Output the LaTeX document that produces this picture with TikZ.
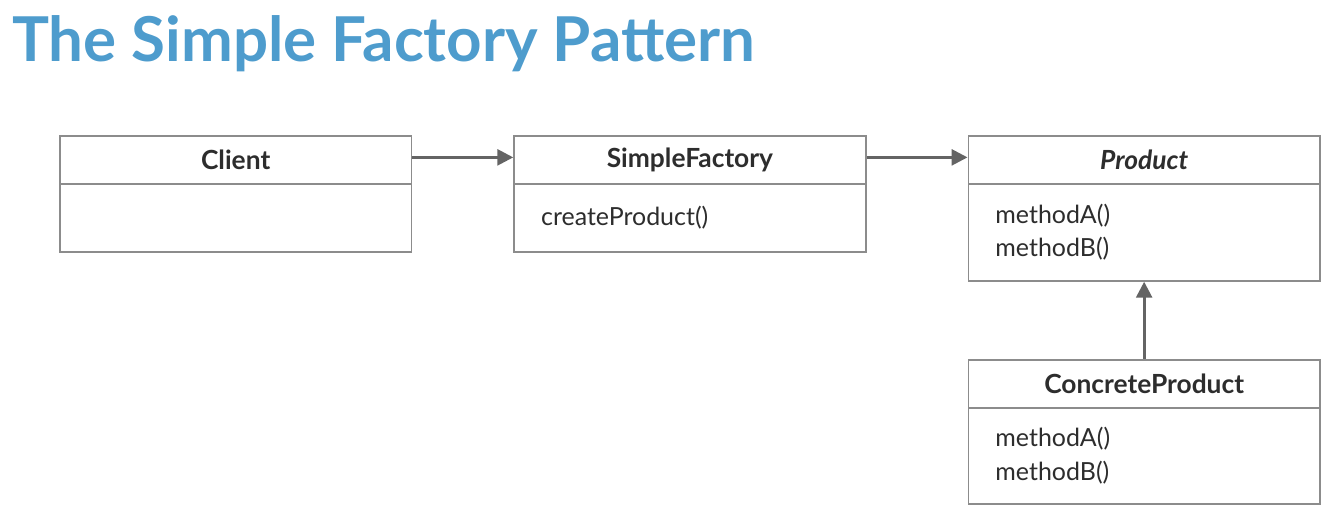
\documentclass[tikz,border=0pt]{standalone}
\usepackage{fontspec}
\setmainfont{Lato}
\usepackage{xcolor}
\usepackage{tikz}
\usetikzlibrary{positioning, arrows.meta}

\definecolor{titleblue}{RGB}{78,156,205}
\definecolor{boxgray}{RGB}{140,140,140}
\definecolor{arrowgray}{RGB}{100,100,100}
\definecolor{textdark}{RGB}{45,45,45}

\tikzset{
	umlhead/.style={draw=boxgray, line width=1pt, rectangle, minimum width=7.03cm, minimum height=0.96cm, inner sep=0pt, font=\fontsize{15}{18}\selectfont\bfseries, text=textdark},
	umlbody/.style={draw=boxgray, line width=1pt, rectangle, minimum width=7.03cm, text width=5.95cm, inner xsep=0.54cm, inner ysep=0pt, align=left, font=\fontsize{14.2}{18.8}\selectfont, text=textdark},
	uses/.style={draw=arrowgray, line width=1.6pt, -{Triangle[length=9pt,width=9pt]}}
}

\begin{document}
\begin{tikzpicture}[node distance=2.02cm and 2.02cm]
		\useasboundingbox (0,0) rectangle (26.84,-10.48);
		
		% Title
		\node[anchor=base west, inner sep=0pt, text=titleblue, font=\fontsize{35.2}{40}\selectfont\bfseries] (title) at (0.24,-1.24) {The Simple Factory Pattern};
		
		% Classes
		\node[umlhead, anchor=north west] (client) at (1.18,-2.7) {Client};
		\node[umlbody, minimum height=1.36cm, below=-1pt of client] (clientbody) {};
		
		\node[umlhead, right=of client] (factory) {SimpleFactory};
		\node[umlbody, minimum height=1.36cm, below=-1pt of factory] (factorybody) {createProduct()};
		
		\node[umlhead, right=of factory] (product) {\itshape Product};
		\node[umlbody, minimum height=1.94cm, below=-1pt of product] (productbody) {methodA()\\methodB()};
		
		\node[umlhead, below=1.54cm of productbody] (concrete) {ConcreteProduct};
		\node[umlbody, minimum height=1.92cm, below=-1pt of concrete] (concretebody) {methodA()\\methodB()};
		
		% Edges
		\draw[uses] ([yshift=0.05cm]client.east) -- ([yshift=0.05cm]factory.west);
		\draw[uses] ([yshift=0.05cm]factory.east) -- ([yshift=0.05cm]product.west);
		\draw[uses] (concrete.north) -- (productbody.south);
	\end{tikzpicture}
\end{document}
